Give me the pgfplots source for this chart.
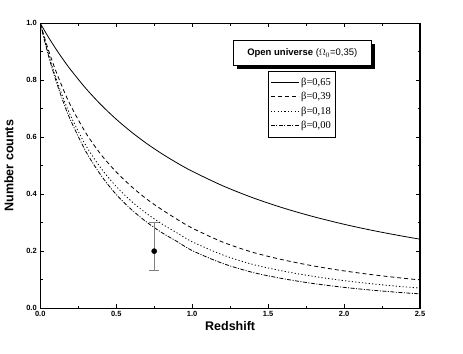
\documentclass[border=0pt]{standalone}
\usepackage{fontspec}
\setmainfont{Liberation Serif}
\setsansfont{Liberation Sans}
\usepackage{pgfplots}
\pgfplotsset{compat=1.18}

\begin{document}
\begin{tikzpicture}
\begin{axis}[
    name=ax,
    scale only axis,
    width=380pt, height=285pt,
    xmin=0, xmax=2.5, ymin=0, ymax=1,
    xtick={0,0.5,...,2.5}, ytick={0,0.2,...,1},
    minor x tick num=1, minor y tick num=1,
    tick align=inside,
    major tick length=4pt, minor tick length=2.5pt,
    tick style={black, line width=0.8pt},
    axis line style={line width=1.2pt},
    /pgf/number format/.cd, fixed, fixed zerofill, precision=1, assume math mode=true,
    /pgfplots/.cd,
    ticklabel style={font=\sffamily\bfseries\fontsize{7.5}{9}\selectfont},
    xlabel={Redshift}, ylabel={Number counts},
    label style={font=\sffamily\bfseries\fontsize{12.5}{15}\selectfont},
    xlabel style={at={(0.5,0)}, yshift=-10pt, anchor=north},
    ylabel style={yshift=6pt},
    legend cell align=left,
    legend image code/.code={\draw[#1] (0pt,0pt) -- (28pt,0pt);},
    legend style={at={(rel axis cs:0.6,0.834)}, anchor=north west, draw=black,
        line width=0.6pt, font=\rmfamily\fontsize{10.5}{12}\selectfont,
        inner xsep=2pt, inner ysep=5pt, row sep=1.5pt},
]
% beta = 0.65
\addplot[black, line width=0.8pt, smooth] coordinates {
(0,1.0) (0.05,0.9545) (0.1,0.9124) (0.15,0.8733) (0.2,0.8369) (0.3,0.7713)
(0.4,0.7138) (0.5,0.6632) (0.6,0.6182) (0.7,0.5781) (0.8,0.5422) (0.9,0.5098)
(1.0,0.4805) (1.2,0.4297) (1.4,0.3873) (1.6,0.3514) (1.8,0.3208) (2.0,0.2943)
(2.2,0.2713) (2.4,0.2512) (2.5,0.2420)};
% beta = 0.39
\addplot[black, line width=0.8pt, smooth, dash pattern=on 4pt off 3pt] coordinates {
(0,1.0) (0.05,0.912) (0.1,0.836) (0.15,0.770) (0.2,0.711) (0.3,0.615)
(0.4,0.539) (0.5,0.478) (0.6,0.427) (0.7,0.383) (0.8,0.346) (0.9,0.312)
(1.0,0.281) (1.2,0.232) (1.4,0.1957) (1.6,0.1692) (1.8,0.1479) (2.0,0.1306)
(2.2,0.1163) (2.4,0.1043) (2.5,0.0990)};
% beta = 0.18
\addplot[black, line width=0.8pt, smooth, dash pattern=on 1.2pt off 2.2pt] coordinates {
(0,1.0) (0.05,0.899) (0.1,0.813) (0.15,0.739) (0.2,0.675) (0.3,0.571)
(0.4,0.491) (0.5,0.427) (0.6,0.375) (0.7,0.332) (0.8,0.296) (0.9,0.264)
(1.0,0.233) (1.2,0.187) (1.4,0.1533) (1.6,0.1298) (1.8,0.1113) (2.0,0.0964)
(2.2,0.0844) (2.4,0.0745) (2.5,0.0702)};
% beta = 0.00
\addplot[black, line width=0.8pt, smooth, dash pattern=on 4pt off 1.5pt on 1pt off 1.5pt] coordinates {
(0,1.0) (0.05,0.894) (0.1,0.804) (0.15,0.726) (0.2,0.659) (0.3,0.550)
(0.4,0.466) (0.5,0.399) (0.6,0.346) (0.7,0.302) (0.8,0.265) (0.9,0.234)
(1.0,0.202) (1.2,0.157) (1.4,0.1251) (1.6,0.1031) (1.8,0.0861) (2.0,0.0728)
(2.2,0.0622) (2.4,0.0536) (2.5,0.0500)};
\legend{{β=0,65}, {β=0,39}, {β=0,18}, {β=0,00}}
% observed point
\addplot[forget plot, only marks, mark=*, mark size=2.6pt, black,
    error bars/.cd, y dir=both, y explicit,
    error bar style={gray, line width=0.8pt},
    error mark=-,
    error mark options={gray, mark size=5pt, line width=0.8pt, rotate=90}]
    coordinates {(0.75,0.20) += (0,0.10) -= (0,0.067)};
\node[fill=black, minimum width=138pt, minimum height=25pt, inner sep=0pt]
    at ([xshift=3.5pt,yshift=-3.5pt]rel axis cs:0.69,0.895) {};
\node[draw=black, line width=0.6pt, fill=white,
      minimum width=138pt, minimum height=25pt, inner sep=0pt,
      font=\sffamily\fontsize{9.5}{11}\selectfont]
    at (rel axis cs:0.69,0.895) {\textbf{Open universe} ($\Omega_0$=0,35)};
\end{axis}
\pgfresetboundingbox
\path[use as bounding box] ([xshift=-40.3pt,yshift=-45.7pt]ax.south west)
    rectangle ([xshift=43pt,yshift=23.3pt]ax.north east);
\end{tikzpicture}
\end{document}
